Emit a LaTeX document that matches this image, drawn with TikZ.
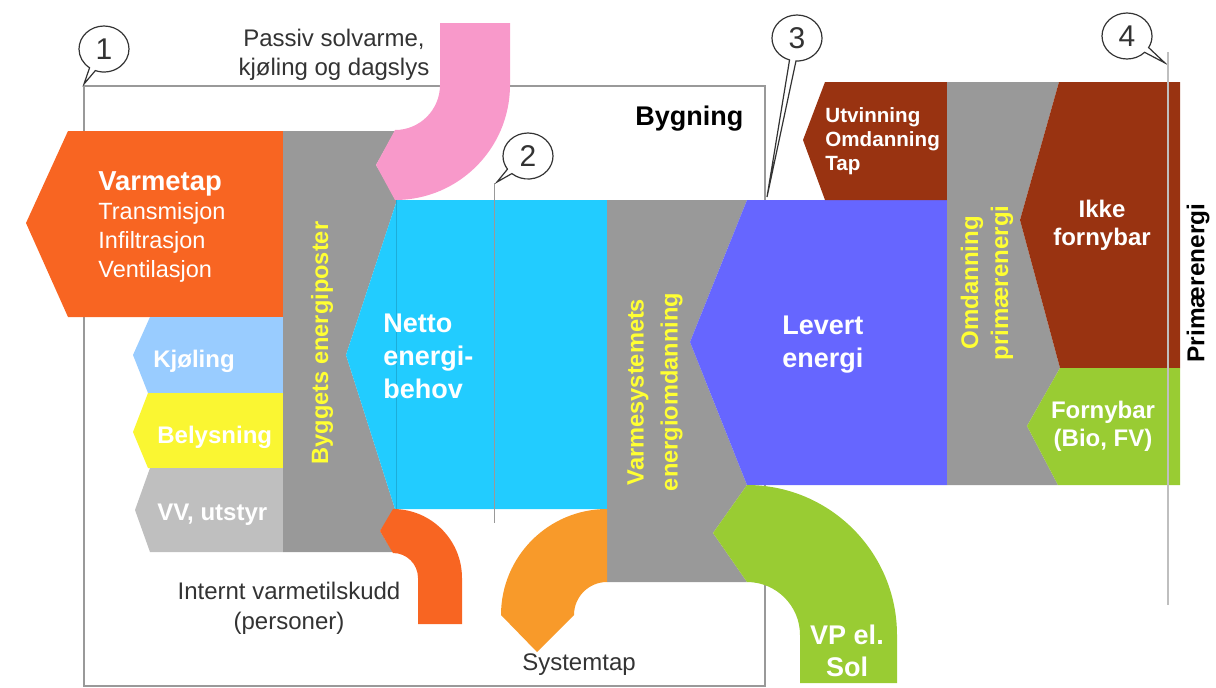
\documentclass[tikz,border=0pt]{standalone}
\usepackage{fontspec}
\setmainfont{Liberation Sans}
\usetikzlibrary{shapes.callouts}

\definecolor{tapOrange}{HTML}{F86522}
\definecolor{sysOrange}{HTML}{F89A2A}
\definecolor{solPink}{HTML}{F899CA}
\definecolor{nettoCyan}{HTML}{22CCFF}
\definecolor{levPurple}{HTML}{6666FF}
\definecolor{midGray}{HTML}{999999}
\definecolor{vvGray}{HTML}{BFBFBF}
\definecolor{kjolBlue}{HTML}{99CCFF}
\definecolor{lysYellow}{HTML}{FAF632}
\definecolor{fossBrown}{HTML}{993311}
\definecolor{fornGreen}{HTML}{99CC33}
\definecolor{gulTekst}{HTML}{FFFF33}
\definecolor{noteGray}{HTML}{333333}
\definecolor{lineGray}{HTML}{999999}

\begin{document}
\begin{tikzpicture}[x=0.5pt, y=0.5pt,
  hvit/.style={text=white, inner sep=0pt, font=\bfseries\fontsize{12}{14}\selectfont},
  stor/.style={text=white, inner sep=0pt, align=left, font=\bfseries\fontsize{13.5}{16.5}\selectfont},
  gul/.style={text=gulTekst, rotate=90, align=center, font=\bfseries\fontsize{11.8}{16}\selectfont},
  merk/.style={text=noteGray, align=center, font=\fontsize{12}{14.5}\selectfont},
  boble/.style={ellipse callout, draw=noteGray, line width=0.6pt, fill=white, inner sep=0pt,
    minimum width=25pt, minimum height=23pt, text=noteGray, font=\fontsize{15}{15}\selectfont}]
\useasboundingbox (0,0) rectangle (1216,-687);

\draw[lineGray, line width=1pt] (84,-86) rectangle (765,-686);

\fill[tapOrange] (26,-223) -- (68,-131) -- (283,-131) -- (283,-317) -- (68,-317) -- cycle;
\fill[kjolBlue] (133,-355) -- (150,-317) -- (283,-317) -- (283,-393) -- (148,-393) -- cycle;
\fill[lysYellow] (133,-432) -- (148,-393) -- (283,-393) -- (283,-468) -- (148,-468) -- cycle;
\fill[vvGray] (135,-510) -- (150,-468) -- (283,-468) -- (283,-552) -- (150,-552) -- cycle;
\fill[midGray] (283,-131) -- (395,-131) -- (376,-165) -- (397,-200) -- (346,-355) -- (395,-509)
  -- (380,-531) -- (393,-552) -- (283,-552) -- cycle;
\fill[solPink] (440,-23) -- (510,-23) -- (510,-85) arc[start angle=0, end angle=-90, radius=115]
  -- (376,-165) -- (395,-130) arc[start angle=-90, end angle=0, radius=45] -- cycle;
\fill[nettoCyan] (397,-200) -- (607,-200) -- (607,-509) -- (395,-509) -- (346,-355) -- cycle;
\draw[nettoCyan!85!black, line width=0.3pt] (396,-200) -- (396,-509);
\fill[tapOrange] (393,-509) arc[start angle=90, end angle=0, radius=69] -- (462,-624) -- (418,-624)
  -- (418,-578) arc[start angle=0, end angle=90, radius=25] -- (380,-531) -- cycle;

\fill[midGray] (607,-200) -- (747,-200) -- (690,-342) -- (747,-485) -- (713,-533) -- (747,-582)
  -- (607,-582) -- cycle;
\fill[levPurple] (747,-200) -- (947,-200) -- (947,-485) -- (747,-485) -- (690,-342) -- cycle;
\fill[sysOrange] (607,-509) arc[start angle=90, end angle=180, radius=106] -- (537,-652)
  -- (574,-615) arc[start angle=180, end angle=90, radius=33] -- cycle;
\fill[fornGreen] (747,-485) arc[start angle=90, end angle=0, radius=150] -- (897,-683) -- (800,-683)
  -- (800,-635) arc[start angle=0, end angle=90, radius=53] -- (713,-533) -- cycle;

\fill[fossBrown] (803,-140) -- (825,-82) -- (947,-82) -- (947,-200) -- (825,-200) -- cycle;
\fill[midGray] (947,-82) -- (1059,-82) -- (1020,-220) -- (1060,-368) -- (1027,-426) -- (1058,-485)
  -- (947,-485) -- cycle;
\fill[fossBrown] (1059,-82) -- (1180,-82) -- (1180,-368) -- (1060,-368) -- (1020,-220) -- cycle;
\fill[fornGreen] (1060,-368) -- (1180,-368) -- (1180,-485) -- (1058,-485) -- (1027,-426) -- cycle;

\node[stor, anchor=west, font=\fontsize{11.75}{14.5}\selectfont] (Vt) at (98,-227)
  {{\bfseries\fontsize{13.7}{15}\selectfont Varmetap}\\Transmisjon\\Infiltrasjon\\Ventilasjon};
\node[hvit, anchor=base west] (Kj) at (153,-367) {Kjøling};
\node[hvit, anchor=base west] (Be) at (157,-443) {Belysning};
\node[hvit, anchor=base west] (VV) at (157,-520) {VV, utstyr};
\node[gul] (BE) at (322,-343) {Byggets energiposter};
\node[stor] (NE) at (383,-356) [anchor=west] {Netto\\energi-\\behov};
\node[gul, font=\bfseries\fontsize{11.8}{17}\selectfont] (VE) at (655,-392) {Varmesystemets\\energiomdanning};
\node[stor] (LE) at (782,-345) [anchor=west] {Levert\\energi};
\node[stor, font=\bfseries\fontsize{10.3}{12}\selectfont] (UOT) at (825,-141) [anchor=west] {Utvinning\\Omdanning\\Tap};
\node[gul, font=\bfseries\fontsize{12}{15}\selectfont] (OP) at (987,-283) {Omdanning\\primærenergi};
\node[hvit, align=center, font=\bfseries\fontsize{12}{14}\selectfont] (IF) at (1102,-225) {Ikke\\fornybar};
\node[hvit, align=center, font=\bfseries\fontsize{12}{14}\selectfont] (FB) at (1103,-426) {Fornybar\\(Bio, FV)};
\node[hvit, align=center, font=\bfseries\fontsize{13.5}{16}\selectfont] (VPS) at (847,-651) {VP el.\\Sol};
\node[rotate=90, font=\bfseries\fontsize{12.2}{14}\selectfont] (PE) at (1198,-283) {Primærenergi};

\node[merk] (PS) at (334,-55) {Passiv solvarme,\\kjøling og dagslys};
\node[merk, font=\fontsize{12}{15}\selectfont] (IV) at (289,-608) {Internt varmetilskudd\\(personer)};
\node[merk] (ST) at (579,-665) {Systemtap};
\node[anchor=base west, inner sep=0pt, font=\bfseries\fontsize{13.5}{15}\selectfont] (Byg) at (635,-125) {Bygning};

\node[boble, callout absolute pointer={(84,-84)}] (b1) at (104,-49) {1};
\node[boble, callout absolute pointer={(497,-182)}] (b2) at (528,-156) {2};
\node[boble, callout absolute pointer={(767,-197)}] (b3) at (797,-38) {3};
\node[boble, callout absolute pointer={(1165,-63)}] (b4) at (1127,-36) {4};

\coordinate (s2top) at (494,-183);
\coordinate (s2bot) at (494,-523);
\coordinate (s4top) at (1168,-52);
\coordinate (s4bot) at (1168,-605);
\draw[lineGray, line width=0.5pt] (s2top) -- (s2bot);
\draw[black!25, line width=1pt] (s4top) -- (s4bot);
\end{tikzpicture}
\end{document}
